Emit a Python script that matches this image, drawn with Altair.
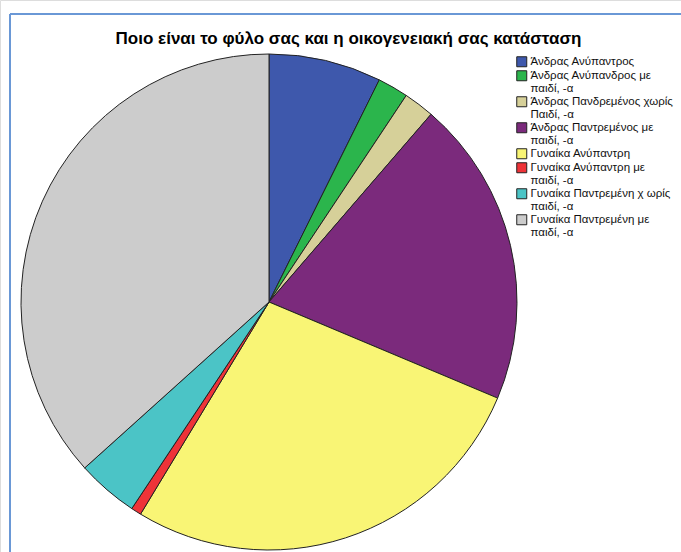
import altair as alt
import pandas as pd

categories = [
    "Άνδρας Ανύπαντρος",
    "Άνδρας Ανύπανδρος με|παιδί, -α",
    "Άνδρας Πανδρεμένος χωρίς|Παιδί, -α",
    "Άνδρας Παντρεμένος με|παιδί, -α",
    "Γυναίκα Ανύπαντρη",
    "Γυναίκα Ανύπαντρη με|παιδί, -α",
    "Γυναίκα Παντρεμένη χ ωρίς|παιδί, -α",
    "Γυναίκα Παντρεμένη με|παιδί, -α",
]
counts = [11, 3, 3, 30, 41, 1, 6, 55]
colors = ["#3e58ac", "#2bb54c", "#d6d099", "#7b2a7c", "#f9f575", "#ee3338", "#4bc4c6", "#cccccc"]

df = pd.DataFrame({"cat": categories, "n": counts, "idx": list(range(len(categories)))})

pie = alt.Chart(df).mark_arc(
    x=269, y=302, outerRadius=248, stroke="#222222", strokeWidth=1, opacity=1
).encode(
    theta=alt.Theta("n:Q", stack=True),
    order=alt.Order("idx:Q", sort="ascending"),
    color=alt.Color(
        "cat:N",
        scale=alt.Scale(domain=categories, range=colors),
        sort=categories,
        legend=alt.Legend(
            title=None,
            orient="none",
            legendX=516,
            legendY=56,
            symbolType="square",
            symbolSize=100,
            symbolStrokeColor="#222222",
            symbolStrokeWidth=1,
            labelFontSize=11.5,
            labelFont="Liberation Sans",
            labelColor="#111111",
            labelLimit=0,
            labelOffset=3,
            rowPadding=-1,
            labelExpr="split(datum.label, '|')",
        ),
    ),
)

frame_v = alt.Chart(df).mark_rule(color="#6a98d6", strokeWidth=2).encode(
    x=alt.value(10), y=alt.value(14), y2=alt.value(560)
)
frame_h = alt.Chart(df).mark_rule(color="#6a98d6", strokeWidth=2).encode(
    x=alt.value(10), x2=alt.value(700), y=alt.value(14)
)

chart = alt.layer(frame_v, frame_h, pie).properties(
    width=681,
    height=552,
    padding=0,
    autosize=alt.AutoSizeParams(type="none"),
    title=alt.TitleParams(
        "Ποιο είναι το φύλο σας και η οικογενειακή σας κατάσταση",
        font="Liberation Sans",
        fontSize=17,
        fontWeight="bold",
        color="#000000",
        anchor="middle",
        dx=8,
        dy=52,
    ),
).configure_view(stroke=None).configure(background="white")

chart.save("out.html", embed_options={"renderer": "svg", "actions": False})
